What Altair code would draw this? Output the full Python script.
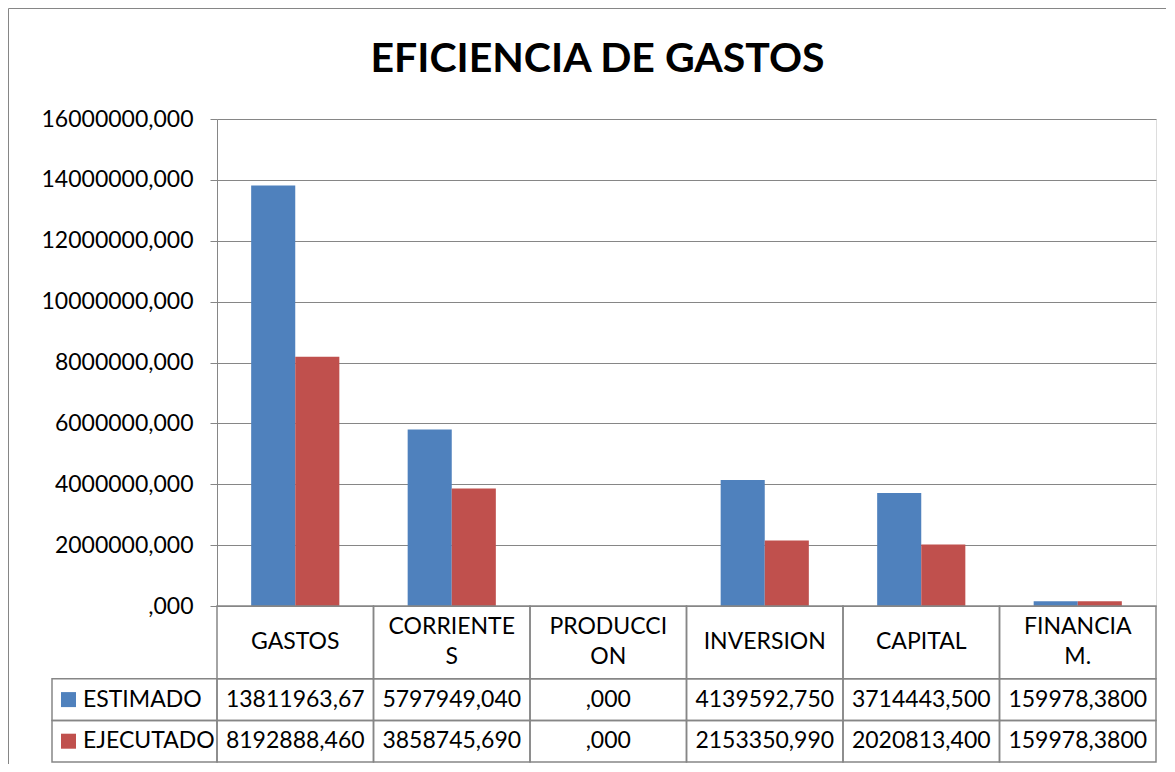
import altair as alt
import pandas as pd

# ---------------- data ----------------
categories = ["GASTOS", "CORRIENTES", "PRODUCCION", "INVERSION", "CAPITAL", "FINANCIAM."]
header_labels = ["GASTOS", "CORRIENTE|S", "PRODUCCI|ON", "INVERSION", "CAPITAL", "FINANCIA|M."]
series = ["ESTIMADO", "EJECUTADO"]
estimado = [13811963.67, 5797949.040, 0.0, 4139592.750, 3714443.500, 159978.3800]
ejecutado = [8192888.460, 3858745.690, 0.0, 2153350.990, 2020813.400, 159978.3800]
estimado_text = ["13811963,67", "5797949,040", ",000", "4139592,750", "3714443,500", "159978,3800"]
ejecutado_text = ["8192888,460", "3858745,690", ",000", "2153350,990", "2020813,400", "159978,3800"]
y_ticks = [0, 2000000, 4000000, 6000000, 8000000, 10000000, 12000000, 14000000, 16000000]
colors = ["#4F81BD", "#C0504D"]
title_text = "EFICIENCIA DE GASTOS"

# ---------------- layout constants ----------------
W, H = 939, 487
FONT = "Lato"
FS = 23
GRID = "#868686"
TABLE_PX = 156
ROW_EDGES = [0.0, 1.75, 2.75, 3.75]
LEGEND_W = 165
LINE_H = 30
PAD_L, PAD_T = 209, 111

values_by_series = [estimado, ejecutado]
texts_by_series = [estimado_text, ejecutado_text]

bars_df = pd.DataFrame(
    [{"category": c, "series": s, "value": values_by_series[i][j]}
     for i, s in enumerate(series) for j, c in enumerate(categories)]
)
header_df = pd.DataFrame({
    "category": categories,
    "label": header_labels,
    "top": ROW_EDGES[0],
    "bottom": ROW_EDGES[1],
    "mid": (ROW_EDGES[0] + ROW_EDGES[1]) / 2,
})
cell_df = pd.DataFrame(
    [{"category": c, "series": s, "text": texts_by_series[i][j],
      "top": ROW_EDGES[i + 1], "bottom": ROW_EDGES[i + 2],
      "mid": (ROW_EDGES[i + 1] + ROW_EDGES[i + 2]) / 2}
     for i, s in enumerate(series) for j, c in enumerate(categories)]
)
legend_df = pd.DataFrame(
    [{"col": "leg", "series": s, "top": ROW_EDGES[i + 1], "bottom": ROW_EDGES[i + 2],
      "mid": (ROW_EDGES[i + 1] + ROW_EDGES[i + 2]) / 2}
     for i, s in enumerate(series)]
)
title_df = pd.DataFrame({"title": [title_text]})
frame_df = pd.DataFrame({"k": [0]})

color_enc = alt.Color("series:N", scale=alt.Scale(domain=series, range=colors), legend=None)


def xcat():
    return alt.X("category:N", scale=alt.Scale(domain=categories, paddingInner=0, paddingOuter=0), axis=None)


def xleg():
    return alt.X("col:N", scale=alt.Scale(domain=["leg"], range=[-LEGEND_W, 0], paddingInner=0, paddingOuter=0),
                 axis=None)


def ytab(field):
    return alt.Y(field, type="quantitative",
                 scale=alt.Scale(domain=[ROW_EDGES[0], ROW_EDGES[-1]], range=[H, H + TABLE_PX], nice=False, zero=False),
                 axis=None)


bars = alt.Chart(bars_df).mark_bar().encode(
    x=xcat(),
    xOffset=alt.XOffset("series:N", scale=alt.Scale(domain=series, paddingInner=0, paddingOuter=0.775)),
    y=alt.Y("value:Q", scale=alt.Scale(domain=[0, 16000000], nice=False),
            axis=alt.Axis(values=y_ticks, title=None,
                          labelExpr="datum.value == 0 ? ',000' : datum.value + ',000'",
                          labelFont=FONT, labelFontSize=FS, labelColor="black", labelPadding=17,
                          grid=True, gridColor=GRID, gridWidth=1,
                          domainColor=GRID, domainWidth=1, tickColor=GRID, tickSize=7, tickWidth=1)),
    color=color_enc,
)

header_rect = alt.Chart(header_df).mark_rect(fillOpacity=0, stroke=GRID, strokeWidth=1.5).encode(
    x=xcat(), y=ytab("top"), y2="bottom"
)
header_text_1 = alt.Chart(header_df).transform_filter(
    "indexof(datum.label, '|') < 0"
).mark_text(
    font=FONT, fontSize=FS, color="black", baseline="middle"
).encode(x=xcat(), y=ytab("mid"), text="label:N")
header_text_2 = alt.Chart(header_df).transform_filter(
    "indexof(datum.label, '|') >= 0"
).mark_text(
    font=FONT, fontSize=FS, color="black", lineBreak="|", lineHeight=LINE_H, baseline="middle",
    dy=-LINE_H / 2
).encode(x=xcat(), y=ytab("mid"), text="label:N")

cell_rect = alt.Chart(cell_df).mark_rect(fillOpacity=0, stroke=GRID, strokeWidth=1.5).encode(
    x=xcat(), y=ytab("top"), y2="bottom"
)
cell_text = alt.Chart(cell_df).mark_text(
    font=FONT, fontSize=FS, color="black", baseline="middle"
).encode(x=xcat(), y=ytab("mid"), text="text:N")

leg_rect = alt.Chart(legend_df).mark_rect(fillOpacity=0, stroke=GRID, strokeWidth=1.5).encode(
    x=xleg(), y=ytab("top"), y2="bottom"
)
leg_square = alt.Chart(legend_df).mark_square(
    size=225, opacity=1, filled=True, xOffset=16.5 - LEGEND_W / 2
).encode(x=xleg(), y=ytab("mid"), color=color_enc)
leg_text = alt.Chart(legend_df).mark_text(
    font=FONT, fontSize=FS, color="black", baseline="middle", align="left", xOffset=31 - LEGEND_W / 2
).encode(x=xleg(), y=ytab("mid"), text="series:N")

# chart title (centred on the chart area)
title_mark = alt.Chart(title_df).mark_text(
    font=FONT, fontSize=41, fontWeight="bold", color="black", align="center", baseline="alphabetic"
).encode(x=alt.value(W / 2 - 89), y=alt.value(-47), text="title:N")

# outer chart-area frame (left and top edges)
frame_left = alt.Chart(frame_df).mark_rule(color=GRID, strokeWidth=1).encode(
    x=alt.value(-PAD_L + 0.5), y=alt.value(-PAD_T + 0.5), y2=alt.value(H + 200)
)
frame_top = alt.Chart(frame_df).mark_rule(color=GRID, strokeWidth=1).encode(
    x=alt.value(-PAD_L + 0.5), x2=alt.value(W + 40), y=alt.value(-PAD_T + 0.5)
)

chart = alt.layer(
    bars, header_rect, header_text_1, header_text_2, cell_rect, cell_text, leg_rect, leg_square, leg_text,
    title_mark, frame_left, frame_top
).resolve_scale(
    x="independent", y="independent"
).properties(
    width=W, height=H,
    autosize=alt.AutoSizeParams(type="none"),
    padding={"left": PAD_L, "top": PAD_T, "right": 10, "bottom": 158},
).configure_view(stroke=None).configure(background="white")

chart.save("out.html", embed_options={"renderer": "svg", "actions": False})
